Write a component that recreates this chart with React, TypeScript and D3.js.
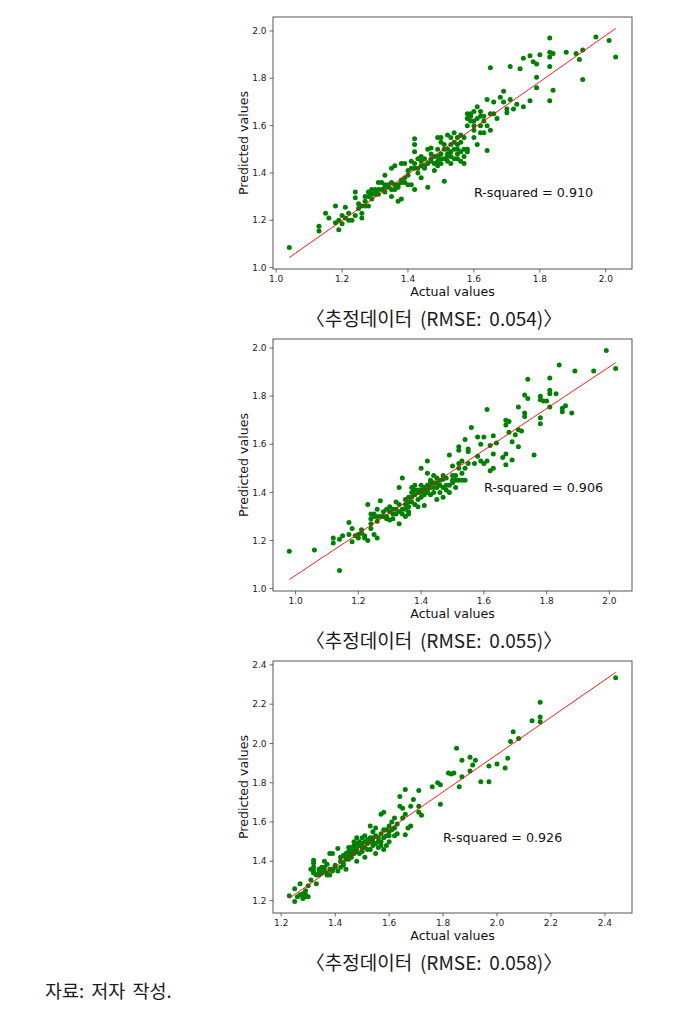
import React from "react";
import * as d3 from "d3";

// ---------- DATA ----------
const panel1Points: [number, number][] = [
  [1.04, 1.085], [1.13, 1.175], [1.13, 1.155], [1.15, 1.23], [1.16, 1.21], [1.18, 1.26], [1.18, 1.19],
  [1.19, 1.2], [1.19, 1.16], [1.2, 1.22], [1.2, 1.185], [1.21, 1.255], [1.22, 1.2], [1.23, 1.2],
  [1.24, 1.32], [1.24, 1.295], [1.24, 1.22], [1.25, 1.27], [1.26, 1.23], [1.26, 1.21], [1.27, 1.26],
  [1.27, 1.3], [1.28, 1.32], [1.28, 1.26], [1.29, 1.33], [1.29, 1.29], [1.3, 1.33], [1.3, 1.31],
  [1.31, 1.36], [1.31, 1.31], [1.32, 1.33], [1.33, 1.39], [1.33, 1.35], [1.33, 1.32], [1.34, 1.34],
  [1.35, 1.42], [1.35, 1.3], [1.35, 1.36], [1.36, 1.43], [1.36, 1.33], [1.37, 1.35], [1.37, 1.28],
  [1.38, 1.29], [1.38, 1.44], [1.38, 1.37], [1.39, 1.44], [1.39, 1.36], [1.4, 1.35], [1.4, 1.41],
  [1.41, 1.35], [1.41, 1.45], [1.42, 1.545], [1.42, 1.52], [1.42, 1.49], [1.42, 1.33], [1.42, 1.42],
  [1.43, 1.46], [1.43, 1.4], [1.44, 1.47], [1.44, 1.38], [1.45, 1.43], [1.46, 1.5], [1.46, 1.34],
  [1.47, 1.505], [1.47, 1.46], [1.48, 1.44], [1.48, 1.41], [1.49, 1.55], [1.49, 1.47], [1.49, 1.45],
  [1.5, 1.53], [1.5, 1.46], [1.5, 1.44], [1.51, 1.5], [1.51, 1.365], [1.52, 1.56], [1.52, 1.48],
  [1.52, 1.45], [1.53, 1.52], [1.53, 1.47], [1.54, 1.57], [1.54, 1.5], [1.55, 1.55], [1.55, 1.48],
  [1.56, 1.56], [1.56, 1.45], [1.57, 1.5], [1.57, 1.44], [1.58, 1.6], [1.58, 1.63], [1.58, 1.49],
  [1.59, 1.64], [1.59, 1.65], [1.6, 1.62], [1.6, 1.58], [1.61, 1.68], [1.61, 1.52], [1.62, 1.66],
  [1.62, 1.6], [1.63, 1.64], [1.63, 1.57], [1.64, 1.71], [1.64, 1.495], [1.65, 1.845], [1.65, 1.65],
  [1.65, 1.58], [1.66, 1.7], [1.67, 1.63], [1.68, 1.72], [1.69, 1.745], [1.69, 1.7], [1.7, 1.67],
  [1.7, 1.655], [1.71, 1.85], [1.71, 1.71], [1.72, 1.67], [1.73, 1.69], [1.74, 1.84], [1.75, 1.885],
  [1.75, 1.68], [1.77, 1.895], [1.77, 1.705], [1.78, 1.87], [1.79, 1.86], [1.79, 1.805], [1.79, 1.76],
  [1.8, 1.9], [1.83, 1.97], [1.83, 1.91], [1.83, 1.89], [1.83, 1.85], [1.83, 1.705], [1.84, 1.905],
  [1.84, 1.75], [1.88, 1.91], [1.91, 1.905], [1.92, 1.88], [1.93, 1.92], [1.93, 1.795], [1.97, 1.975],
  [2.01, 1.96], [2.03, 1.89],
  [1.5, 1.48], [1.51, 1.46], [1.51, 1.52], [1.52, 1.5], [1.52, 1.47], [1.53, 1.49], [1.53, 1.44],
  [1.54, 1.53], [1.54, 1.46], [1.55, 1.5], [1.55, 1.52], [1.56, 1.49], [1.56, 1.53], [1.57, 1.47],
  [1.57, 1.55], [1.49, 1.5], [1.48, 1.47], [1.47, 1.45], [1.46, 1.44], [1.45, 1.46], [1.44, 1.43],
  [1.43, 1.42], [1.42, 1.44], [1.41, 1.42], [1.4, 1.39], [1.39, 1.38], [1.38, 1.36], [1.37, 1.34],
  [1.36, 1.35], [1.35, 1.33], [1.34, 1.35], [1.33, 1.34], [1.32, 1.36], [1.31, 1.33], [1.3, 1.32],
  [1.29, 1.31], [1.28, 1.3], [1.27, 1.28], [1.26, 1.26], [1.25, 1.25], [1.22, 1.23], [1.21, 1.21],
  [1.6, 1.6], [1.61, 1.63], [1.62, 1.64], [1.63, 1.62], [1.6, 1.66], [1.59, 1.62], [1.58, 1.65],
  [1.64, 1.6], [1.66, 1.65], [1.55, 1.46], [1.53, 1.55], [1.58, 1.5], [1.6, 1.55], [1.62, 1.57],
  [1.5, 1.55], [1.49, 1.43], [1.47, 1.48], [1.45, 1.42], [1.44, 1.45],
];

const panel2Points: [number, number][] = [
  [0.98, 1.155], [1.06, 1.16], [1.12, 1.21], [1.12, 1.19], [1.14, 1.075], [1.14, 1.205], [1.15, 1.22],
  [1.17, 1.275], [1.17, 1.225], [1.18, 1.25], [1.18, 1.195], [1.19, 1.22], [1.2, 1.225], [1.2, 1.21],
  [1.21, 1.245], [1.21, 1.23], [1.22, 1.21], [1.22, 1.22], [1.23, 1.35], [1.23, 1.2], [1.24, 1.27],
  [1.24, 1.31], [1.24, 1.25], [1.25, 1.3], [1.25, 1.225], [1.26, 1.33], [1.26, 1.21], [1.26, 1.28],
  [1.27, 1.365], [1.27, 1.3], [1.28, 1.32], [1.29, 1.33], [1.29, 1.3], [1.3, 1.34], [1.3, 1.285],
  [1.31, 1.33], [1.31, 1.29], [1.32, 1.31], [1.32, 1.36], [1.33, 1.42], [1.33, 1.27], [1.33, 1.35],
  [1.34, 1.46], [1.34, 1.31], [1.35, 1.37], [1.35, 1.33], [1.36, 1.38], [1.36, 1.31], [1.37, 1.36],
  [1.37, 1.4], [1.38, 1.43], [1.38, 1.35], [1.39, 1.41], [1.39, 1.34], [1.4, 1.5], [1.4, 1.43],
  [1.4, 1.38], [1.41, 1.345], [1.41, 1.41], [1.42, 1.53], [1.42, 1.48], [1.42, 1.4], [1.43, 1.44],
  [1.43, 1.39], [1.44, 1.47], [1.44, 1.42], [1.45, 1.46], [1.45, 1.37], [1.46, 1.43], [1.46, 1.4],
  [1.47, 1.455], [1.47, 1.38], [1.48, 1.43], [1.48, 1.46], [1.49, 1.555], [1.49, 1.4], [1.5, 1.51],
  [1.5, 1.44], [1.51, 1.47], [1.51, 1.42], [1.52, 1.5], [1.52, 1.59], [1.52, 1.575], [1.53, 1.48],
  [1.53, 1.53], [1.54, 1.62], [1.54, 1.45], [1.55, 1.58], [1.55, 1.57], [1.56, 1.67], [1.57, 1.52],
  [1.58, 1.63], [1.58, 1.55], [1.59, 1.6], [1.59, 1.53], [1.6, 1.63], [1.6, 1.52], [1.61, 1.745],
  [1.61, 1.53], [1.62, 1.595], [1.62, 1.49], [1.63, 1.635], [1.63, 1.56], [1.63, 1.5], [1.64, 1.605],
  [1.66, 1.545], [1.67, 1.7], [1.67, 1.68], [1.67, 1.56], [1.67, 1.515], [1.68, 1.695], [1.68, 1.65],
  [1.69, 1.61], [1.69, 1.535], [1.7, 1.64], [1.71, 1.755], [1.71, 1.66], [1.71, 1.59], [1.72, 1.655],
  [1.73, 1.805], [1.73, 1.73], [1.73, 1.715], [1.74, 1.87], [1.74, 1.79], [1.76, 1.555], [1.78, 1.8],
  [1.78, 1.785], [1.78, 1.71], [1.78, 1.685], [1.79, 1.78], [1.8, 1.78], [1.81, 1.875], [1.81, 1.825],
  [1.81, 1.81], [1.81, 1.755], [1.83, 1.81], [1.84, 1.93], [1.85, 1.75], [1.85, 1.735], [1.86, 1.76],
  [1.88, 1.73], [1.89, 1.905], [1.95, 1.905], [1.99, 1.99], [2.02, 1.915],
  [1.36, 1.36], [1.37, 1.38], [1.38, 1.39], [1.39, 1.4], [1.4, 1.41], [1.41, 1.42], [1.42, 1.43],
  [1.43, 1.42], [1.44, 1.4], [1.45, 1.42], [1.46, 1.45], [1.47, 1.42], [1.48, 1.41], [1.49, 1.43],
  [1.5, 1.45], [1.41, 1.39], [1.42, 1.41], [1.43, 1.45], [1.44, 1.44], [1.39, 1.37], [1.38, 1.41],
  [1.37, 1.42], [1.36, 1.34], [1.35, 1.35], [1.34, 1.33], [1.33, 1.32], [1.32, 1.33], [1.31, 1.31],
  [1.3, 1.32], [1.29, 1.29], [1.28, 1.3], [1.25, 1.31], [1.24, 1.29], [1.26, 1.3], [1.35, 1.3],
  [1.36, 1.32], [1.4, 1.4], [1.45, 1.44], [1.47, 1.47], [1.5, 1.47], [1.51, 1.45], [1.52, 1.45],
  [1.53, 1.45], [1.54, 1.5], [1.55, 1.52], [1.52, 1.52],
];

const panel3Points: [number, number][] = [
  [1.23, 1.225], [1.25, 1.26], [1.25, 1.195], [1.26, 1.22], [1.27, 1.285], [1.27, 1.23], [1.28, 1.21],
  [1.28, 1.235], [1.29, 1.22], [1.29, 1.25], [1.3, 1.275], [1.31, 1.305], [1.32, 1.405], [1.32, 1.39],
  [1.32, 1.37], [1.32, 1.35], [1.33, 1.285], [1.34, 1.36], [1.34, 1.33], [1.35, 1.37], [1.35, 1.34],
  [1.36, 1.4], [1.36, 1.35], [1.37, 1.385], [1.37, 1.34], [1.38, 1.44], [1.38, 1.33], [1.39, 1.44],
  [1.39, 1.36], [1.4, 1.38], [1.41, 1.465], [1.41, 1.35], [1.42, 1.37], [1.42, 1.42], [1.43, 1.39],
  [1.44, 1.36], [1.44, 1.41], [1.45, 1.45], [1.45, 1.43], [1.46, 1.46], [1.46, 1.42], [1.47, 1.5],
  [1.47, 1.44], [1.48, 1.52], [1.48, 1.47], [1.48, 1.4], [1.49, 1.48], [1.5, 1.52], [1.5, 1.45],
  [1.51, 1.5], [1.51, 1.42], [1.52, 1.49], [1.53, 1.58], [1.53, 1.46], [1.54, 1.52], [1.54, 1.48],
  [1.55, 1.57], [1.55, 1.44], [1.56, 1.52], [1.56, 1.47], [1.57, 1.64], [1.57, 1.5], [1.58, 1.65],
  [1.58, 1.56], [1.59, 1.53], [1.59, 1.48], [1.6, 1.55], [1.6, 1.5], [1.61, 1.6], [1.62, 1.62],
  [1.62, 1.57], [1.63, 1.59], [1.63, 1.54], [1.64, 1.73], [1.64, 1.68], [1.65, 1.62], [1.65, 1.67],
  [1.66, 1.765], [1.66, 1.64], [1.66, 1.535], [1.67, 1.57], [1.68, 1.68], [1.68, 1.58], [1.69, 1.715],
  [1.71, 1.76], [1.71, 1.68], [1.71, 1.65], [1.72, 1.635], [1.76, 1.78], [1.78, 1.8], [1.79, 1.79],
  [1.79, 1.69], [1.82, 1.85], [1.83, 1.845], [1.84, 1.85], [1.85, 1.975], [1.86, 1.78], [1.87, 1.915],
  [1.87, 1.83], [1.9, 1.93], [1.9, 1.86], [1.91, 1.89], [1.92, 1.915], [1.94, 1.805], [1.97, 1.805],
  [1.97, 1.885], [2.0, 1.895], [2.03, 1.875], [2.04, 1.925], [2.05, 2.01], [2.06, 2.06], [2.08, 2.025],
  [2.13, 2.115], [2.16, 2.21], [2.16, 2.135], [2.16, 2.11], [2.44, 2.335],
  [1.42, 1.4], [1.43, 1.43], [1.44, 1.44], [1.45, 1.41], [1.46, 1.47], [1.47, 1.46], [1.48, 1.45],
  [1.49, 1.5], [1.5, 1.49], [1.51, 1.47], [1.52, 1.51], [1.53, 1.5], [1.54, 1.5], [1.55, 1.53],
  [1.56, 1.5], [1.57, 1.54], [1.58, 1.52], [1.59, 1.56], [1.6, 1.58], [1.47, 1.48], [1.46, 1.44],
  [1.45, 1.47], [1.44, 1.42], [1.43, 1.38], [1.4, 1.37], [1.39, 1.35], [1.38, 1.36], [1.37, 1.33],
  [1.36, 1.37], [1.35, 1.35], [1.34, 1.34], [1.33, 1.33], [1.32, 1.34], [1.31, 1.36], [1.3, 1.22],
  [1.29, 1.23], [1.5, 1.47], [1.52, 1.46], [1.53, 1.52], [1.55, 1.49], [1.57, 1.48], [1.58, 1.46],
  [1.6, 1.53], [1.61, 1.56], [1.62, 1.53], [1.49, 1.44], [1.48, 1.49], [1.51, 1.53], [1.54, 1.55],
];

// regression fits [slope, intercept]
const fits: [number, number][] = [[0.978, 0.0254], [0.867, 0.188], [0.95, 0.0435]];
const rSquaredLabels = ["R-squared = 0.910", "R-squared = 0.906", "R-squared = 0.926"];
const rSquaredAnchors: [number, number][] = [[1.6, 1.3], [1.6, 1.4], [1.8, 1.5]];
const captions = [
  "〈추정데이터 (RMSE: 0.054)〉",
  "〈추정데이터 (RMSE: 0.055)〉",
  "〈추정데이터 (RMSE: 0.058)〉",
];
const xTicks = [
  [1.0, 1.2, 1.4, 1.6, 1.8, 2.0],
  [1.0, 1.2, 1.4, 1.6, 1.8, 2.0],
  [1.2, 1.4, 1.6, 1.8, 2.0, 2.2, 2.4],
];
const yTicks = [
  [1.0, 1.2, 1.4, 1.6, 1.8, 2.0],
  [1.0, 1.2, 1.4, 1.6, 1.8, 2.0],
  [1.2, 1.4, 1.6, 1.8, 2.0, 2.2, 2.4],
];
const xLabel = "Actual values";
const yLabel = "Predicted values";
const sourceNote = "자료: 저자 작성.";

// ---------- LAYOUT ----------
const W = 696;
const H = 1013;
const boxLeft = 273;
const boxWidth = 359;
const boxHeight = 252;
const boxTops = [17, 339, 661];
const captionBaselines = [326, 648, 970];
const captionCenterX = 434;

const pointSets = [panel1Points, panel2Points, panel3Points];

function padded(ext: [number, number]): [number, number] {
  const r = ext[1] - ext[0];
  return [ext[0] - 0.05 * r, ext[1] + 0.05 * r];
}

const tickFont = "DejaVu Sans, sans-serif";
const cjkFont = "Noto Sans CJK KR, sans-serif";

function Panel({ idx }: { idx: number }) {
  const pts = pointSets[idx];
  const [m, b] = fits[idx];
  const top = boxTops[idx];
  const xExt = d3.extent(pts, (d) => d[0]) as [number, number];
  const lineYs = [m * xExt[0] + b, m * xExt[1] + b];
  const yExt = d3.extent([...pts.map((d) => d[1]), ...lineYs]) as [number, number];
  const x = d3.scaleLinear().domain(padded(xExt)).range([boxLeft, boxLeft + boxWidth]);
  const y = d3.scaleLinear().domain(padded(yExt)).range([top + boxHeight, top]);
  const bottom = top + boxHeight;
  const line = d3
    .line<number>()
    .x((d) => x(d))
    .y((d) => y(m * d + b));
  const fmt = d3.format(".1f");
  return (
    <g>
      {pts.map((d, i) => (
        <circle key={i} cx={x(d[0])} cy={y(d[1])} r={2.5} fill="#008000" />
      ))}
      <path d={line(xExt) || ""} stroke="#ff0000" strokeWidth={0.9} fill="none" />
      <rect
        x={boxLeft}
        y={top}
        width={boxWidth}
        height={boxHeight}
        fill="none"
        stroke="#444"
        strokeWidth={0.9}
      />
      {xTicks[idx].map((t) => (
        <g key={"x" + t}>
          <line x1={x(t)} x2={x(t)} y1={bottom} y2={bottom + 3.5} stroke="#444" strokeWidth={0.8} />
          <text
            x={x(t)}
            y={bottom + 12.5}
            textAnchor="middle"
            fontFamily={tickFont}
            fontSize={9}
            fill="#222"
          >
            {fmt(t)}
          </text>
        </g>
      ))}
      {yTicks[idx].map((t) => (
        <g key={"y" + t}>
          <line x1={boxLeft - 3.5} x2={boxLeft} y1={y(t)} y2={y(t)} stroke="#444" strokeWidth={0.8} />
          <text
            x={boxLeft - 6.5}
            y={y(t)}
            dy="0.35em"
            textAnchor="end"
            fontFamily={tickFont}
            fontSize={9}
            fill="#222"
          >
            {fmt(t)}
          </text>
        </g>
      ))}
      <text
        x={x(rSquaredAnchors[idx][0])}
        y={y(rSquaredAnchors[idx][1])}
        fontFamily={tickFont}
        fontSize={12.7}
        fill="#111"
      >
        {rSquaredLabels[idx]}
      </text>
      <text
        x={boxLeft + boxWidth / 2}
        y={bottom + 27}
        textAnchor="middle"
        fontFamily={tickFont}
        fontSize={12.6}
        fill="#111"
      >
        {xLabel}
      </text>
      <text
        transform={`translate(${boxLeft - 25},${top + boxHeight / 2}) rotate(-90)`}
        textAnchor="middle"
        fontFamily={tickFont}
        fontSize={12.6}
        fill="#111"
      >
        {yLabel}
      </text>
      <text
        x={captionCenterX}
        y={captionBaselines[idx]}
        textAnchor="middle"
        fontFamily={cjkFont}
        fontSize={19}
        wordSpacing={3.5}
        fill="#1a1a1a"
      >
        {captions[idx]}
      </text>
    </g>
  );
}

export default function App() {
  return (
    <svg
      width={W}
      height={H}
      style={{ position: "absolute", left: 0, top: 0, background: "#fff" }}
    >
      <rect x={0} y={0} width={W} height={H} fill="#fff" />
      {[0, 1, 2].map((i) => (
        <Panel key={i} idx={i} />
      ))}
      <text x={45} y={998} fontFamily={cjkFont} fontSize={18.5} wordSpacing={3} fill="#1a1a1a">
        {sourceNote}
      </text>
    </svg>
  );
}
